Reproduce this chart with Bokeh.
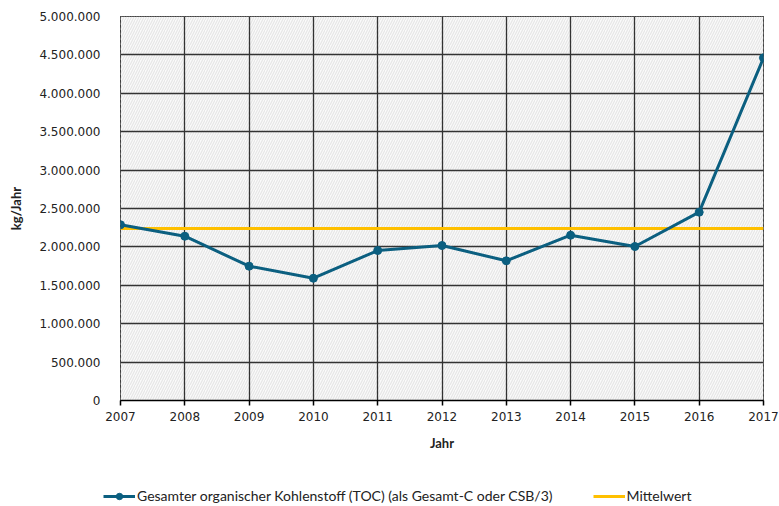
from bokeh.plotting import figure
from bokeh.models import (FixedTicker, BoxAnnotation, Legend, LegendItem, Range1d)
from bokeh.embed import file_html
from bokeh.resources import INLINE

years = [2007, 2008, 2009, 2010, 2011, 2012, 2013, 2014, 2015, 2016, 2017]
toc = [2288000, 2139000, 1749000, 1592000, 1953000, 2018000, 1819000, 2152000, 2005000, 2452000, 4462000]
mittelwert = [2239000] * len(years)
y_ticks = [0, 500000, 1000000, 1500000, 2000000, 2500000, 3000000, 3500000, 4000000, 4500000, 5000000]
y_tick_labels = ["0", "500.000", "1.000.000", "1.500.000", "2.000.000", "2.500.000",
                 "3.000.000", "3.500.000", "4.000.000", "4.500.000", "5.000.000"]
series_name = "Gesamter organischer Kohlenstoff (TOC) (als Gesamt-C oder CSB/3)"
mean_name = "Mittelwert"

TICK_FONT = "DejaVu Sans"
LABEL_FONT = "Lato"
BLUE = "#0b5f80"
GOLD = "#ffc000"

p = figure(width=779, height=470, output_backend="svg", toolbar_location=None,
           x_range=Range1d(2007, 2017), y_range=Range1d(0, 5000000),
           min_border_left=120, min_border_right=16, min_border_top=16, min_border_bottom=70)

p.background_fill_color = "#fafafa"
p.border_fill_color = "white"
p.outline_line_color = "black"
p.outline_line_width = 1

hatch = BoxAnnotation(fill_color="#fafafa", fill_alpha=1, line_alpha=0,
                      hatch_pattern="/", hatch_color="#e6e6e6", hatch_scale=5,
                      hatch_weight=1.2, level="image")
p.add_layout(hatch)

# grid
p.xgrid.ticker = FixedTicker(ticks=years)
p.ygrid.ticker = FixedTicker(ticks=y_ticks)
for g in (p.xgrid, p.ygrid):
    g.grid_line_color = "#333333"
    g.grid_line_width = 1.3
    g.grid_line_alpha = 1

# x axis
p.xaxis.ticker = FixedTicker(ticks=years)
p.xaxis.axis_label = "Jahr"
p.xaxis.axis_line_color = "black"
p.xaxis.axis_line_width = 1.5
p.xaxis.major_tick_line_color = "black"
p.xaxis.major_tick_line_width = 1.5
p.xaxis.major_tick_out = 5
p.xaxis.major_tick_in = 0
p.xaxis.minor_tick_line_color = None
p.xaxis.major_label_standoff = 6
p.xaxis.major_label_text_font = TICK_FONT
p.xaxis.major_label_text_font_size = "12px"
p.xaxis.major_label_text_color = "#222222"
p.xaxis.axis_label_text_font = LABEL_FONT
p.xaxis.axis_label_text_font_style = "bold"
p.xaxis.axis_label_text_font_size = "13px"
p.xaxis.axis_label_standoff = 11
p.xaxis.axis_label_text_color = "#222222"

# y axis
p.yaxis.ticker = FixedTicker(ticks=y_ticks)
p.yaxis.major_label_overrides = {t: lab for t, lab in zip(y_ticks, y_tick_labels)}
p.yaxis.axis_label = "kg/Jahr"
p.yaxis.axis_line_color = None
p.yaxis.major_tick_line_color = None
p.yaxis.minor_tick_line_color = None
p.yaxis.major_label_standoff = 14
p.yaxis.major_label_text_font = TICK_FONT
p.yaxis.major_label_text_font_size = "12px"
p.yaxis.major_label_text_color = "#222222"
p.yaxis.axis_label_text_font = LABEL_FONT
p.yaxis.axis_label_text_font_style = "bold"
p.yaxis.axis_label_text_font_size = "13px"
p.yaxis.axis_label_standoff = 12
p.yaxis.axis_label_text_color = "#222222"

p.line(years, mittelwert, line_color=GOLD, line_width=3)
p.line(years, toc, line_color=BLUE, line_width=3)
p.scatter(years, toc, size=8, fill_color=BLUE, line_color=BLUE)

# legend strip below the chart (its proxy series lie outside its view)
lf = figure(width=779, height=36, output_backend="svg", toolbar_location=None,
            x_axis_type=None, y_axis_type=None, x_range=Range1d(0, 1), y_range=Range1d(0, 1),
            min_border_left=0, min_border_right=0, min_border_top=0, min_border_bottom=0)
lf.outline_line_color = None
lf.xgrid.visible = False
lf.ygrid.visible = False
lf.background_fill_color = "white"
lf.border_fill_color = "white"
lf_mean = lf.line(years, mittelwert, line_color=GOLD, line_width=3)
lf_line = lf.line(years, toc, line_color=BLUE, line_width=3)
lf_circ = lf.scatter(years, toc, size=7, fill_color=BLUE, line_color=BLUE)

legend = Legend(items=[LegendItem(label=series_name, renderers=[lf_line, lf_circ]),
                       LegendItem(label=mean_name, renderers=[lf_mean])],
                location=(103, 2), orientation="horizontal",
                background_fill_alpha=0, border_line_alpha=0,
                padding=0, margin=0, spacing=40, glyph_width=32, glyph_height=16,
                label_standoff=2, label_text_font=LABEL_FONT,
                label_text_font_size="14px", label_text_color="#222222",
                label_height=16)
lf.add_layout(legend, "center")

open("out.html", "w").write(file_html([p, lf], INLINE))
